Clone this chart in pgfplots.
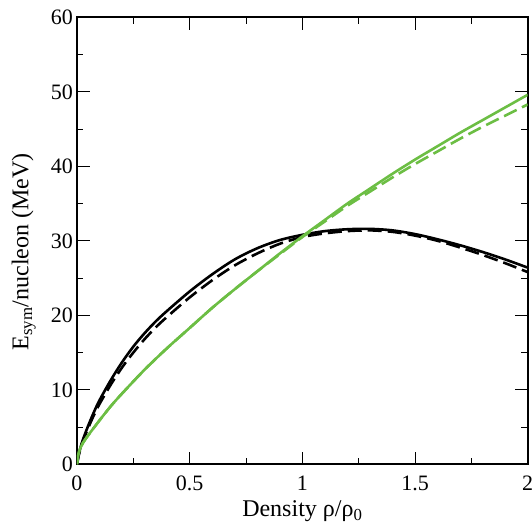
\documentclass[border=0pt]{standalone}
\usepackage{fontspec}
\setmainfont{Liberation Serif}
\usepackage{pgfplots}
\pgfplotsset{compat=1.18}
\definecolor{mygreen}{RGB}{108,190,68}
\begin{document}
\begin{tikzpicture}
\begin{axis}[
  scale only axis,
  width=450.7bp, height=447bp,
  xmin=0, xmax=2, ymin=0, ymax=60,
  xtick={0,0.5,1,1.5,2},
  ytick={0,10,20,30,40,50,60},
  xticklabels={0,0.5,1,1.5,2},
  minor x tick num=1, minor y tick num=1,
  tick align=inside,
  xtick pos=both, ytick pos=both,
  major tick length=12.7bp, minor tick length=6.5bp,
  every tick/.style={black, line width=1bp},
  axis line style={line width=1.8bp},
  /pgf/number format/assume math mode=true,
  tick label style={font=\fontsize{22bp}{25bp}\selectfont},
  label style={font=\fontsize{24bp}{27bp}\selectfont},
  xticklabel style={anchor=base, yshift=-26.4bp},
  yticklabel style={anchor=east, xshift=-0.5bp},
  xlabel={Density ρ/ρ\textsubscript{0}},
  ylabel={E\textsubscript{sym}/nucleon (MeV)},
  xlabel style={at={(axis description cs:0.5,0)}, anchor=base, yshift=-52.4bp},
  ylabel style={at={([xshift=-48.7bp,yshift=-11bp]axis description cs:0,0.5)}, anchor=base},
]
\coordinate (ll) at (rel axis cs:0,0);
\coordinate (ur) at (rel axis cs:1,1);
% black solid
\addplot[black, line width=2.6bp, smooth] coordinates {
(0,0) (0.01,1.6) (0.025,3.2) (0.05,5.2) (0.075,7.0) (0.1,8.6) (0.15,11.3) (0.2,13.7) (0.25,15.8) (0.3,17.6) (0.35,19.2) (0.4,20.6) (0.5,23.2) (0.6,25.5) (0.7,27.5) (0.8,29.0) (0.9,30.1) (1.0,30.8) (1.1,31.3) (1.2,31.55) (1.3,31.6) (1.4,31.4) (1.5,30.9) (1.6,30.2) (1.7,29.4) (1.8,28.5) (1.9,27.5) (2.0,26.4)
};
% black dashed
\addplot[black, line width=2.6bp, smooth, dash pattern=on 14bp off 6bp] coordinates {
(0,0) (0.01,1.5) (0.025,3.0) (0.05,4.9) (0.075,6.6) (0.1,8.1) (0.15,10.7) (0.2,13.0) (0.25,15.0) (0.3,16.8) (0.35,18.4) (0.4,19.8) (0.5,22.4) (0.6,24.7) (0.7,26.7) (0.8,28.3) (0.9,29.6) (1.0,30.5) (1.1,31.0) (1.2,31.3) (1.3,31.4) (1.4,31.2) (1.5,30.7) (1.6,30.0) (1.7,29.1) (1.8,28.1) (1.9,27.0) (2.0,25.8)
};
% green solid
\addplot[mygreen, line width=2.6bp, smooth] coordinates {
(0,0) (0.005,1.2) (0.01,1.8) (0.025,2.8) (0.05,3.9) (0.1,5.9) (0.15,7.8) (0.2,9.5) (0.3,12.7) (0.4,15.6) (0.5,18.3) (0.6,21.0) (0.7,23.5) (0.8,25.9) (0.9,28.3) (1.0,30.6) (1.1,32.8) (1.2,35.0) (1.3,37.0) (1.4,39.0) (1.5,40.9) (1.6,42.7) (1.7,44.5) (1.8,46.2) (1.9,47.9) (2.0,49.6)
};
% green dashed
\addplot[mygreen, line width=2.6bp, smooth, dash pattern=on 14bp off 6bp] coordinates {
(0,0) (0.005,1.2) (0.01,1.8) (0.025,2.8) (0.05,3.9) (0.1,5.9) (0.15,7.8) (0.2,9.5) (0.3,12.7) (0.4,15.6) (0.5,18.3) (0.6,21.0) (0.7,23.5) (0.8,25.9) (0.9,28.2) (1.0,30.5) (1.1,32.6) (1.2,34.7) (1.3,36.6) (1.4,38.5) (1.5,40.3) (1.6,42.0) (1.7,43.7) (1.8,45.3) (1.9,46.8) (2.0,48.3)
};
\end{axis}
\pgfresetboundingbox
\path ([shift={(-77bp,-60.7bp)}]ll) rectangle ([shift={(4.3bp,17.3bp)}]ur);
\end{tikzpicture}
\end{document}
